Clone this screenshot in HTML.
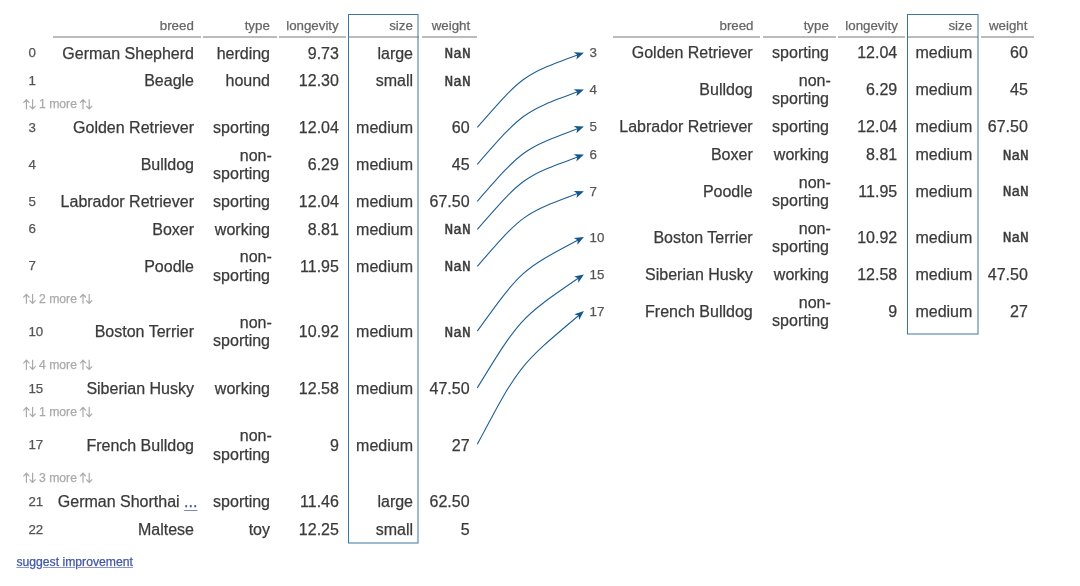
<!DOCTYPE html>
<html><head><meta charset="utf-8"><style>
html,body{margin:0;padding:0;background:#fff;width:1080px;height:586px;overflow:hidden}
body{position:relative;font-family:"Liberation Sans", sans-serif}
.t{position:absolute;white-space:nowrap;text-align:right;-webkit-text-stroke:0.25px currentColor}
.lk{color:#3c4fa3;text-decoration:underline;text-decoration-color:#7d8ac2;text-underline-offset:2.6px}
</style></head><body><div style="position:absolute;left:0;top:0;width:1080px;height:586px;will-change:transform">
<div class="t" style="top:16.89px;right:886.20px;font-size:13.3px;line-height:17px;color:#666;">breed</div>
<div class="t" style="top:16.89px;right:810.20px;font-size:13.3px;line-height:17px;color:#666;">type</div>
<div class="t" style="top:16.89px;right:741.30px;font-size:13.3px;line-height:17px;color:#666;">longevity</div>
<div class="t" style="top:16.89px;right:667.20px;font-size:13.3px;line-height:17px;color:#666;">size</div>
<div class="t" style="top:16.89px;right:609.80px;font-size:13.3px;line-height:17px;color:#666;">weight</div>
<div style="position:absolute;left:53px;top:36px;width:148px;height:2px;background:#bbb"></div>
<div style="position:absolute;left:203px;top:36px;width:74px;height:2px;background:#bbb"></div>
<div style="position:absolute;left:279px;top:36px;width:67px;height:2px;background:#bbb"></div>
<div style="position:absolute;left:348px;top:36px;width:71px;height:2px;background:#bbb"></div>
<div style="position:absolute;left:422px;top:36px;width:55px;height:2px;background:#bbb"></div>
<div class="t" style="top:16.89px;right:326.50px;font-size:13.3px;line-height:17px;color:#666;">breed</div>
<div class="t" style="top:16.89px;right:251.20px;font-size:13.3px;line-height:17px;color:#666;">type</div>
<div class="t" style="top:16.89px;right:182.20px;font-size:13.3px;line-height:17px;color:#666;">longevity</div>
<div class="t" style="top:16.89px;right:107.90px;font-size:13.3px;line-height:17px;color:#666;">size</div>
<div class="t" style="top:16.89px;right:52.60px;font-size:13.3px;line-height:17px;color:#666;">weight</div>
<div style="position:absolute;left:613px;top:36px;width:147px;height:2px;background:#bbb"></div>
<div style="position:absolute;left:763px;top:36px;width:73px;height:2px;background:#bbb"></div>
<div style="position:absolute;left:838px;top:36px;width:67px;height:2px;background:#bbb"></div>
<div style="position:absolute;left:907px;top:36px;width:71px;height:2px;background:#bbb"></div>
<div style="position:absolute;left:981px;top:36px;width:53px;height:2px;background:#bbb"></div>
<div class="t" style="top:44.29px;left:28.40px;font-size:13.3px;line-height:17px;color:#555;">0</div>
<div class="t" style="top:43.61px;right:886.00px;font-size:16px;line-height:20px;color:#3a3a3a;">German Shepherd</div>
<div class="t" style="top:43.61px;right:810.00px;font-size:16px;line-height:20px;color:#3a3a3a;">herding</div>
<div class="t" style="top:43.61px;right:741.10px;font-size:16px;line-height:20px;color:#3a3a3a;">9.73</div>
<div class="t" style="top:43.61px;right:667.00px;font-size:16px;line-height:20px;color:#3a3a3a;">large</div>
<div class="t" style="top:45.09px;right:609.40px;font-size:14.5px;line-height:18px;color:#3a3a3a;font-family:'Liberation Mono', monospace;-webkit-text-stroke:0.45px currentColor">NaN</div>
<div class="t" style="top:71.89px;left:28.40px;font-size:13.3px;line-height:17px;color:#555;">1</div>
<div class="t" style="top:71.21px;right:886.00px;font-size:16px;line-height:20px;color:#3a3a3a;">Beagle</div>
<div class="t" style="top:71.21px;right:810.00px;font-size:16px;line-height:20px;color:#3a3a3a;">hound</div>
<div class="t" style="top:71.21px;right:741.10px;font-size:16px;line-height:20px;color:#3a3a3a;">12.30</div>
<div class="t" style="top:71.21px;right:667.00px;font-size:16px;line-height:20px;color:#3a3a3a;">small</div>
<div class="t" style="top:72.69px;right:609.40px;font-size:14.5px;line-height:18px;color:#3a3a3a;font-family:'Liberation Mono', monospace;-webkit-text-stroke:0.45px currentColor">NaN</div>
<div class="t" style="top:119.09px;left:28.40px;font-size:13.3px;line-height:17px;color:#555;">3</div>
<div class="t" style="top:118.41px;right:886.00px;font-size:16px;line-height:20px;color:#3a3a3a;">Golden Retriever</div>
<div class="t" style="top:118.41px;right:810.00px;font-size:16px;line-height:20px;color:#3a3a3a;">sporting</div>
<div class="t" style="top:118.41px;right:741.10px;font-size:16px;line-height:20px;color:#3a3a3a;">12.04</div>
<div class="t" style="top:118.41px;right:667.00px;font-size:16px;line-height:20px;color:#3a3a3a;">medium</div>
<div class="t" style="top:118.41px;right:610.40px;font-size:16px;line-height:20px;color:#3a3a3a;">60</div>
<div class="t" style="top:155.99px;left:28.40px;font-size:13.3px;line-height:17px;color:#555;">4</div>
<div class="t" style="top:155.31px;right:886.00px;font-size:16px;line-height:20px;color:#3a3a3a;">Bulldog</div>
<div class="t" style="top:147.01px;right:810.00px;font-size:16px;line-height:18.3px;color:#3a3a3a"><span style="position:relative;left:1.8px">non-</span><br>sporting</div>
<div class="t" style="top:155.31px;right:741.10px;font-size:16px;line-height:20px;color:#3a3a3a;">6.29</div>
<div class="t" style="top:155.31px;right:667.00px;font-size:16px;line-height:20px;color:#3a3a3a;">medium</div>
<div class="t" style="top:155.31px;right:610.40px;font-size:16px;line-height:20px;color:#3a3a3a;">45</div>
<div class="t" style="top:192.79px;left:28.40px;font-size:13.3px;line-height:17px;color:#555;">5</div>
<div class="t" style="top:192.11px;right:886.00px;font-size:16px;line-height:20px;color:#3a3a3a;">Labrador Retriever</div>
<div class="t" style="top:192.11px;right:810.00px;font-size:16px;line-height:20px;color:#3a3a3a;">sporting</div>
<div class="t" style="top:192.11px;right:741.10px;font-size:16px;line-height:20px;color:#3a3a3a;">12.04</div>
<div class="t" style="top:192.11px;right:667.00px;font-size:16px;line-height:20px;color:#3a3a3a;">medium</div>
<div class="t" style="top:192.11px;right:610.40px;font-size:16px;line-height:20px;color:#3a3a3a;">67.50</div>
<div class="t" style="top:220.49px;left:28.40px;font-size:13.3px;line-height:17px;color:#555;">6</div>
<div class="t" style="top:219.81px;right:886.00px;font-size:16px;line-height:20px;color:#3a3a3a;">Boxer</div>
<div class="t" style="top:219.81px;right:810.00px;font-size:16px;line-height:20px;color:#3a3a3a;">working</div>
<div class="t" style="top:219.81px;right:741.10px;font-size:16px;line-height:20px;color:#3a3a3a;">8.81</div>
<div class="t" style="top:219.81px;right:667.00px;font-size:16px;line-height:20px;color:#3a3a3a;">medium</div>
<div class="t" style="top:221.29px;right:609.40px;font-size:14.5px;line-height:18px;color:#3a3a3a;font-family:'Liberation Mono', monospace;-webkit-text-stroke:0.45px currentColor">NaN</div>
<div class="t" style="top:257.29px;left:28.40px;font-size:13.3px;line-height:17px;color:#555;">7</div>
<div class="t" style="top:256.61px;right:886.00px;font-size:16px;line-height:20px;color:#3a3a3a;">Poodle</div>
<div class="t" style="top:248.31px;right:810.00px;font-size:16px;line-height:18.3px;color:#3a3a3a"><span style="position:relative;left:1.8px">non-</span><br>sporting</div>
<div class="t" style="top:256.61px;right:741.10px;font-size:16px;line-height:20px;color:#3a3a3a;">11.95</div>
<div class="t" style="top:256.61px;right:667.00px;font-size:16px;line-height:20px;color:#3a3a3a;">medium</div>
<div class="t" style="top:258.09px;right:609.40px;font-size:14.5px;line-height:18px;color:#3a3a3a;font-family:'Liberation Mono', monospace;-webkit-text-stroke:0.45px currentColor">NaN</div>
<div class="t" style="top:322.99px;left:28.40px;font-size:13.3px;line-height:17px;color:#555;">10</div>
<div class="t" style="top:322.31px;right:886.00px;font-size:16px;line-height:20px;color:#3a3a3a;">Boston Terrier</div>
<div class="t" style="top:314.01px;right:810.00px;font-size:16px;line-height:18.3px;color:#3a3a3a"><span style="position:relative;left:1.8px">non-</span><br>sporting</div>
<div class="t" style="top:322.31px;right:741.10px;font-size:16px;line-height:20px;color:#3a3a3a;">10.92</div>
<div class="t" style="top:322.31px;right:667.00px;font-size:16px;line-height:20px;color:#3a3a3a;">medium</div>
<div class="t" style="top:323.79px;right:609.40px;font-size:14.5px;line-height:18px;color:#3a3a3a;font-family:'Liberation Mono', monospace;-webkit-text-stroke:0.45px currentColor">NaN</div>
<div class="t" style="top:379.79px;left:28.40px;font-size:13.3px;line-height:17px;color:#555;">15</div>
<div class="t" style="top:379.11px;right:886.00px;font-size:16px;line-height:20px;color:#3a3a3a;">Siberian Husky</div>
<div class="t" style="top:379.11px;right:810.00px;font-size:16px;line-height:20px;color:#3a3a3a;">working</div>
<div class="t" style="top:379.11px;right:741.10px;font-size:16px;line-height:20px;color:#3a3a3a;">12.58</div>
<div class="t" style="top:379.11px;right:667.00px;font-size:16px;line-height:20px;color:#3a3a3a;">medium</div>
<div class="t" style="top:379.11px;right:610.40px;font-size:16px;line-height:20px;color:#3a3a3a;">47.50</div>
<div class="t" style="top:436.34px;left:28.40px;font-size:13.3px;line-height:17px;color:#555;">17</div>
<div class="t" style="top:435.66px;right:886.00px;font-size:16px;line-height:20px;color:#3a3a3a;">French Bulldog</div>
<div class="t" style="top:427.36px;right:810.00px;font-size:16px;line-height:18.3px;color:#3a3a3a"><span style="position:relative;left:1.8px">non-</span><br>sporting</div>
<div class="t" style="top:435.66px;right:741.10px;font-size:16px;line-height:20px;color:#3a3a3a;">9</div>
<div class="t" style="top:435.66px;right:667.00px;font-size:16px;line-height:20px;color:#3a3a3a;">medium</div>
<div class="t" style="top:435.66px;right:610.40px;font-size:16px;line-height:20px;color:#3a3a3a;">27</div>
<div class="t" style="top:493.09px;left:28.40px;font-size:13.3px;line-height:17px;color:#555;">21</div>
<div class="t" style="top:492.41px;right:882.60px;font-size:16px;line-height:20px;color:#3a3a3a;">German Shorthai <span class="lk">...</span></div>
<div class="t" style="top:492.41px;right:810.00px;font-size:16px;line-height:20px;color:#3a3a3a;">sporting</div>
<div class="t" style="top:492.41px;right:741.10px;font-size:16px;line-height:20px;color:#3a3a3a;">11.46</div>
<div class="t" style="top:492.41px;right:667.00px;font-size:16px;line-height:20px;color:#3a3a3a;">large</div>
<div class="t" style="top:492.41px;right:610.40px;font-size:16px;line-height:20px;color:#3a3a3a;">62.50</div>
<div class="t" style="top:520.59px;left:28.40px;font-size:13.3px;line-height:17px;color:#555;">22</div>
<div class="t" style="top:519.91px;right:886.00px;font-size:16px;line-height:20px;color:#3a3a3a;">Maltese</div>
<div class="t" style="top:519.91px;right:810.00px;font-size:16px;line-height:20px;color:#3a3a3a;">toy</div>
<div class="t" style="top:519.91px;right:741.10px;font-size:16px;line-height:20px;color:#3a3a3a;">12.25</div>
<div class="t" style="top:519.91px;right:667.00px;font-size:16px;line-height:20px;color:#3a3a3a;">small</div>
<div class="t" style="top:519.91px;right:610.40px;font-size:16px;line-height:20px;color:#3a3a3a;">5</div>
<div class="t" style="top:44.09px;left:589.60px;font-size:13.3px;line-height:17px;color:#555;">3</div>
<div class="t" style="top:43.41px;right:327.30px;font-size:16px;line-height:20px;color:#3a3a3a;">Golden Retriever</div>
<div class="t" style="top:43.41px;right:251.00px;font-size:16px;line-height:20px;color:#3a3a3a;">sporting</div>
<div class="t" style="top:43.41px;right:182.80px;font-size:16px;line-height:20px;color:#3a3a3a;">12.04</div>
<div class="t" style="top:43.41px;right:107.70px;font-size:16px;line-height:20px;color:#3a3a3a;">medium</div>
<div class="t" style="top:43.41px;right:52.20px;font-size:16px;line-height:20px;color:#3a3a3a;">60</div>
<div class="t" style="top:81.09px;left:589.60px;font-size:13.3px;line-height:17px;color:#555;">4</div>
<div class="t" style="top:80.41px;right:327.30px;font-size:16px;line-height:20px;color:#3a3a3a;">Bulldog</div>
<div class="t" style="top:72.11px;right:251.00px;font-size:16px;line-height:18.3px;color:#3a3a3a"><span style="position:relative;left:1.8px">non-</span><br>sporting</div>
<div class="t" style="top:80.41px;right:182.80px;font-size:16px;line-height:20px;color:#3a3a3a;">6.29</div>
<div class="t" style="top:80.41px;right:107.70px;font-size:16px;line-height:20px;color:#3a3a3a;">medium</div>
<div class="t" style="top:80.41px;right:52.20px;font-size:16px;line-height:20px;color:#3a3a3a;">45</div>
<div class="t" style="top:117.84px;left:589.60px;font-size:13.3px;line-height:17px;color:#555;">5</div>
<div class="t" style="top:117.16px;right:327.30px;font-size:16px;line-height:20px;color:#3a3a3a;">Labrador Retriever</div>
<div class="t" style="top:117.16px;right:251.00px;font-size:16px;line-height:20px;color:#3a3a3a;">sporting</div>
<div class="t" style="top:117.16px;right:182.80px;font-size:16px;line-height:20px;color:#3a3a3a;">12.04</div>
<div class="t" style="top:117.16px;right:107.70px;font-size:16px;line-height:20px;color:#3a3a3a;">medium</div>
<div class="t" style="top:117.16px;right:52.20px;font-size:16px;line-height:20px;color:#3a3a3a;">67.50</div>
<div class="t" style="top:146.09px;left:589.60px;font-size:13.3px;line-height:17px;color:#555;">6</div>
<div class="t" style="top:145.41px;right:327.30px;font-size:16px;line-height:20px;color:#3a3a3a;">Boxer</div>
<div class="t" style="top:145.41px;right:251.00px;font-size:16px;line-height:20px;color:#3a3a3a;">working</div>
<div class="t" style="top:145.41px;right:182.80px;font-size:16px;line-height:20px;color:#3a3a3a;">8.81</div>
<div class="t" style="top:145.41px;right:107.70px;font-size:16px;line-height:20px;color:#3a3a3a;">medium</div>
<div class="t" style="top:146.89px;right:51.20px;font-size:14.5px;line-height:18px;color:#3a3a3a;font-family:'Liberation Mono', monospace;-webkit-text-stroke:0.45px currentColor">NaN</div>
<div class="t" style="top:182.59px;left:589.60px;font-size:13.3px;line-height:17px;color:#555;">7</div>
<div class="t" style="top:181.91px;right:327.30px;font-size:16px;line-height:20px;color:#3a3a3a;">Poodle</div>
<div class="t" style="top:173.61px;right:251.00px;font-size:16px;line-height:18.3px;color:#3a3a3a"><span style="position:relative;left:1.8px">non-</span><br>sporting</div>
<div class="t" style="top:181.91px;right:182.80px;font-size:16px;line-height:20px;color:#3a3a3a;">11.95</div>
<div class="t" style="top:181.91px;right:107.70px;font-size:16px;line-height:20px;color:#3a3a3a;">medium</div>
<div class="t" style="top:183.39px;right:51.20px;font-size:14.5px;line-height:18px;color:#3a3a3a;font-family:'Liberation Mono', monospace;-webkit-text-stroke:0.45px currentColor">NaN</div>
<div class="t" style="top:228.59px;left:589.60px;font-size:13.3px;line-height:17px;color:#555;">10</div>
<div class="t" style="top:227.91px;right:327.30px;font-size:16px;line-height:20px;color:#3a3a3a;">Boston Terrier</div>
<div class="t" style="top:219.61px;right:251.00px;font-size:16px;line-height:18.3px;color:#3a3a3a"><span style="position:relative;left:1.8px">non-</span><br>sporting</div>
<div class="t" style="top:227.91px;right:182.80px;font-size:16px;line-height:20px;color:#3a3a3a;">10.92</div>
<div class="t" style="top:227.91px;right:107.70px;font-size:16px;line-height:20px;color:#3a3a3a;">medium</div>
<div class="t" style="top:229.39px;right:51.20px;font-size:14.5px;line-height:18px;color:#3a3a3a;font-family:'Liberation Mono', monospace;-webkit-text-stroke:0.45px currentColor">NaN</div>
<div class="t" style="top:265.79px;left:589.60px;font-size:13.3px;line-height:17px;color:#555;">15</div>
<div class="t" style="top:265.11px;right:327.30px;font-size:16px;line-height:20px;color:#3a3a3a;">Siberian Husky</div>
<div class="t" style="top:265.11px;right:251.00px;font-size:16px;line-height:20px;color:#3a3a3a;">working</div>
<div class="t" style="top:265.11px;right:182.80px;font-size:16px;line-height:20px;color:#3a3a3a;">12.58</div>
<div class="t" style="top:265.11px;right:107.70px;font-size:16px;line-height:20px;color:#3a3a3a;">medium</div>
<div class="t" style="top:265.11px;right:52.20px;font-size:16px;line-height:20px;color:#3a3a3a;">47.50</div>
<div class="t" style="top:302.69px;left:589.60px;font-size:13.3px;line-height:17px;color:#555;">17</div>
<div class="t" style="top:302.01px;right:327.30px;font-size:16px;line-height:20px;color:#3a3a3a;">French Bulldog</div>
<div class="t" style="top:293.71px;right:251.00px;font-size:16px;line-height:18.3px;color:#3a3a3a"><span style="position:relative;left:1.8px">non-</span><br>sporting</div>
<div class="t" style="top:302.01px;right:182.80px;font-size:16px;line-height:20px;color:#3a3a3a;">9</div>
<div class="t" style="top:302.01px;right:107.70px;font-size:16px;line-height:20px;color:#3a3a3a;">medium</div>
<div class="t" style="top:302.01px;right:52.20px;font-size:16px;line-height:20px;color:#3a3a3a;">27</div>
<div class="t" style="top:97.47px;left:39.00px;font-size:12.2px;line-height:15px;color:#aaa;">1 more</div>
<div class="t" style="top:292.07px;left:39.00px;font-size:12.2px;line-height:15px;color:#aaa;">2 more</div>
<div class="t" style="top:357.97px;left:39.00px;font-size:12.2px;line-height:15px;color:#aaa;">4 more</div>
<div class="t" style="top:405.22px;left:39.00px;font-size:12.2px;line-height:15px;color:#aaa;">1 more</div>
<div class="t" style="top:471.02px;left:39.00px;font-size:12.2px;line-height:15px;color:#aaa;">3 more</div>
<svg style="position:absolute;left:0;top:0" width="1080" height="586"><g fill="none" stroke="#aaa" stroke-width="1.2"><path d="M26.40,109.20V99.90M23.40,102.90L26.40,99.70L29.40,102.90M32.60,99.30V108.60M29.60,105.80L32.60,108.90L35.60,105.80"/><path d="M83.00,109.20V99.90M80.00,102.90L83.00,99.70L86.00,102.90M89.20,99.30V108.60M86.20,105.80L89.20,108.90L92.20,105.80"/><path d="M26.40,303.80V294.50M23.40,297.50L26.40,294.30L29.40,297.50M32.60,293.90V303.20M29.60,300.40L32.60,303.50L35.60,300.40"/><path d="M83.00,303.80V294.50M80.00,297.50L83.00,294.30L86.00,297.50M89.20,293.90V303.20M86.20,300.40L89.20,303.50L92.20,300.40"/><path d="M26.40,369.70V360.40M23.40,363.40L26.40,360.20L29.40,363.40M32.60,359.80V369.10M29.60,366.30L32.60,369.40L35.60,366.30"/><path d="M83.00,369.70V360.40M80.00,363.40L83.00,360.20L86.00,363.40M89.20,359.80V369.10M86.20,366.30L89.20,369.40L92.20,366.30"/><path d="M26.40,416.95V407.65M23.40,410.65L26.40,407.45L29.40,410.65M32.60,407.05V416.35M29.60,413.55L32.60,416.65L35.60,413.55"/><path d="M83.00,416.95V407.65M80.00,410.65L83.00,407.45L86.00,410.65M89.20,407.05V416.35M86.20,413.55L89.20,416.65L92.20,413.55"/><path d="M26.40,482.75V473.45M23.40,476.45L26.40,473.25L29.40,476.45M32.60,472.85V482.15M29.60,479.35L32.60,482.45L35.60,479.35"/><path d="M83.00,482.75V473.45M80.00,476.45L83.00,473.25L86.00,476.45M89.20,472.85V482.15M86.20,479.35L89.20,482.45L92.20,479.35"/></g></svg>
<svg style="position:absolute;left:0;top:0" width="1080" height="586"><rect x="348.5" y="14.5" width="69.5" height="528.5" fill="none" stroke="#3a77a4" stroke-width="1"/></svg>
<svg style="position:absolute;left:0;top:0" width="1080" height="586"><rect x="907.5" y="14.5" width="70.5" height="319.5" fill="none" stroke="#3a77a4" stroke-width="1"/></svg>
<svg style="position:absolute;left:0;top:0" width="1080" height="586"><path d="M477.30,127.30C522.97,75.08 522.97,75.08 578.27,54.77" fill="none" stroke="#1f5f94" stroke-width="1.1"/><path d="M583.90,52.70L573.77,52.37L577.33,55.11L576.39,59.51Z" fill="#11578c"/><path d="M477.30,164.30C522.95,111.99 522.95,111.99 578.27,91.58" fill="none" stroke="#1f5f94" stroke-width="1.1"/><path d="M583.90,89.50L573.77,89.19L577.33,91.92L576.40,96.32Z" fill="#11578c"/><path d="M477.30,201.30C522.94,148.95 522.94,148.95 578.27,128.48" fill="none" stroke="#1f5f94" stroke-width="1.1"/><path d="M583.90,126.40L573.77,126.10L577.33,128.83L576.40,133.22Z" fill="#11578c"/><path d="M477.30,229.30C522.96,177.04 522.96,177.04 578.27,156.67" fill="none" stroke="#1f5f94" stroke-width="1.1"/><path d="M583.90,154.60L573.77,154.28L577.33,157.02L576.39,161.41Z" fill="#11578c"/><path d="M477.30,266.30C522.92,213.85 522.92,213.85 578.28,193.29" fill="none" stroke="#1f5f94" stroke-width="1.1"/><path d="M583.90,191.20L573.77,190.91L577.34,193.64L576.41,198.04Z" fill="#11578c"/><path d="M477.30,331.10C521.34,270.08 521.34,270.08 578.60,239.80" fill="none" stroke="#1f5f94" stroke-width="1.1"/><path d="M583.90,237.00L573.81,238.03L577.71,240.27L577.37,244.75Z" fill="#11578c"/><path d="M477.30,387.90C520.07,318.11 520.07,318.11 578.95,277.79" fill="none" stroke="#1f5f94" stroke-width="1.1"/><path d="M583.90,274.40L574.00,276.58L578.12,278.36L578.29,282.85Z" fill="#11578c"/><path d="M477.30,444.30C519.08,365.53 519.08,365.53 579.31,314.96" fill="none" stroke="#1f5f94" stroke-width="1.1"/><path d="M583.90,311.10L574.26,314.23L578.54,315.60L579.14,320.05Z" fill="#11578c"/></svg>
<div class="t" style="top:554.87px;left:16.40px;font-size:12.2px;line-height:15px;color:#4256a6;text-decoration:underline;text-decoration-color:#8d98c9">suggest improvement</div>
</div></body></html>
